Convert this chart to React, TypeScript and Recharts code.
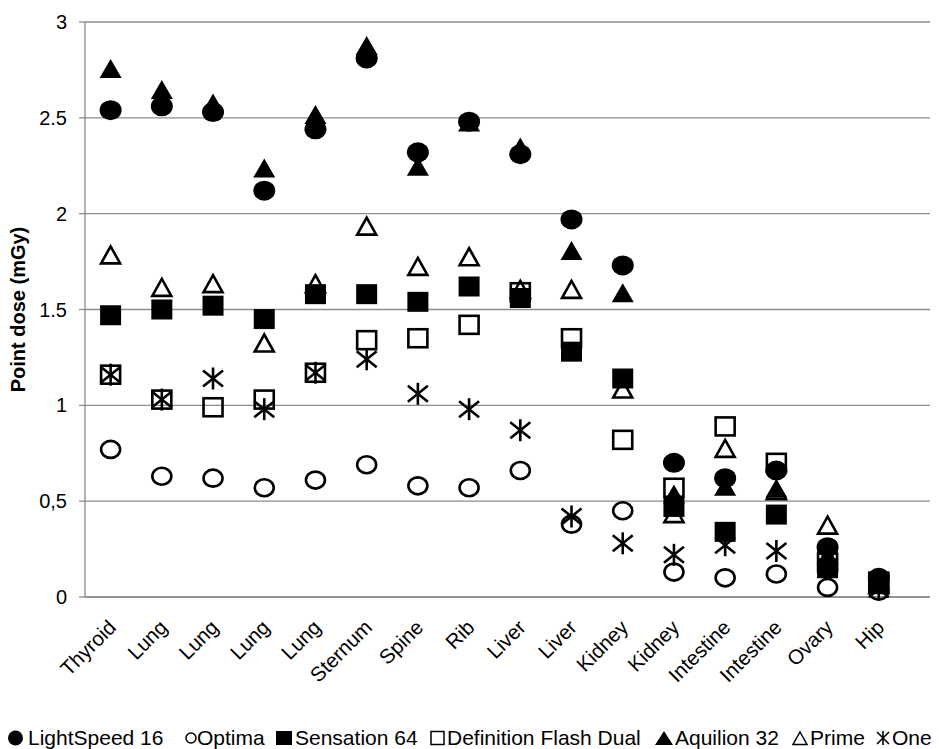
import React from "react";
import { ScatterChart, Scatter, XAxis, YAxis, CartesianGrid, Legend } from "recharts";

const categories = ["Thyroid", "Lung", "Lung", "Lung", "Lung", "Sternum", "Spine", "Rib", "Liver", "Liver", "Kidney", "Kidney", "Intestine", "Intestine", "Ovary", "Hip"];
const lightSpeed16 = [2.54, 2.56, 2.53, 2.12, 2.44, 2.81, 2.32, 2.48, 2.31, 1.97, 1.73, 0.70, 0.62, 0.66, 0.26, 0.10];
const optima = [0.77, 0.63, 0.62, 0.57, 0.61, 0.69, 0.58, 0.57, 0.66, 0.38, 0.45, 0.13, 0.10, 0.12, 0.05, 0.03];
const sensation64 = [1.47, 1.50, 1.52, 1.45, 1.58, 1.58, 1.54, 1.62, 1.56, 1.28, 1.14, 0.47, 0.34, 0.43, 0.15, 0.07];
const definitionFlashDual = [1.16, 1.03, 0.99, 1.03, 1.17, 1.34, 1.35, 1.42, 1.59, 1.35, 0.82, 0.57, 0.89, 0.70, 0.18, 0.08];
const aquilion32 = [2.75, 2.64, 2.57, 2.23, 2.51, 2.87, 2.24, 2.47, 2.34, 1.80, 1.58, 0.53, 0.57, 0.56, 0.21, 0.09];
const prime = [1.78, 1.61, 1.63, 1.32, 1.63, 1.93, 1.72, 1.77, 1.60, 1.60, 1.08, 0.43, 0.77, 0.55, 0.37, 0.06];
const one = [1.16, 1.03, 1.14, 0.98, 1.17, 1.24, 1.06, 0.98, 0.87, 0.42, 0.28, 0.22, 0.27, 0.24, 0.20, 0.04];
const yTicks = [0, 0.5, 1, 1.5, 2, 2.5, 3];
const yTickLabels = ["0", "0,5", "1", "1.5", "2", "2.5", "3"];

const FONT = "'Liberation Sans', Arial, sans-serif";
const SW = 2.6;

type ShapeKind = "circleF" | "circleO" | "squareF" | "squareO" | "triF" | "triO" | "star";

function Marker({ cx, cy, kind }: { cx: number; cy: number; kind: ShapeKind }) {
  if (cx == null || cy == null) return null;
  switch (kind) {
    case "circleF":
      return <ellipse cx={cx} cy={cy} rx={11} ry={10} fill="#000" />;
    case "circleO":
      return <ellipse cx={cx} cy={cy} rx={9.5} ry={8.5} fill="none" stroke="#000" strokeWidth={SW} />;
    case "squareF":
      return <rect x={cx - 10.5} y={cy - 10} width={21} height={20} fill="#000" />;
    case "squareO":
      return <rect x={cx - 9.5} y={cy - 9} width={19} height={18} fill="none" stroke="#000" strokeWidth={SW} />;
    case "triF":
      return <path d={`M${cx},${cy - 11} L${cx + 11},${cy + 8} L${cx - 11},${cy + 8} Z`} fill="#000" />;
    case "triO":
      return <path d={`M${cx},${cy - 9.5} L${cx + 9.5},${cy + 7.5} L${cx - 9.5},${cy + 7.5} Z`} fill="none" stroke="#000" strokeWidth={SW} strokeLinejoin="miter" />;
    case "star":
      return (
        <g stroke="#000" strokeWidth={SW}>
          <line x1={cx} y1={cy - 11} x2={cx} y2={cy + 11} />
          <line x1={cx - 10} y1={cy - 8} x2={cx + 10} y2={cy + 8} />
          <line x1={cx - 10} y1={cy + 8} x2={cx + 10} y2={cy - 8} />
        </g>
      );
  }
  return null;
}

const seriesDefs: { name: string; values: number[]; kind: ShapeKind }[] = [
  { name: "LightSpeed 16", values: lightSpeed16, kind: "circleF" },
  { name: "Optima", values: optima, kind: "circleO" },
  { name: "Sensation 64", values: sensation64, kind: "squareF" },
  { name: "Definition Flash Dual", values: definitionFlashDual, kind: "squareO" },
  { name: "Aquilion 32", values: aquilion32, kind: "triF" },
  { name: "Prime", values: prime, kind: "triO" },
  { name: "One", values: one, kind: "star" },
];

// legend layout (icon left, icon width, text left) in chart pixels
const legendLayout = [
  [0, 15, 20],
  [177, 12, 189],
  [267, 18, 287],
  [422, 15, 439],
  [647, 18, 667],
  [784, 16, 802],
  [868, 14, 884],
];

function LegendIcon({ kind, w }: { kind: ShapeKind; w: number }) {
  const h = 16;
  const c = w / 2;
  const m = h / 2;
  let el: React.ReactNode = null;
  switch (kind) {
    case "circleF": el = <circle cx={c} cy={m} r={7.5} fill="#000" />; break;
    case "circleO": el = <circle cx={c} cy={m} r={5} fill="none" stroke="#000" strokeWidth={1.5} />; break;
    case "squareF": el = <rect x={1} y={1} width={w - 2} height={14} fill="#000" />; break;
    case "squareO": el = <rect x={1} y={1.5} width={w - 2} height={13} fill="none" stroke="#000" strokeWidth={1.5} />; break;
    case "triF": el = <path d={`M${c},1 L${w},15 L0,15 Z`} fill="#000" />; break;
    case "triO": el = <path d={`M${c},2 L${w - 1},14.5 L1,14.5 Z`} fill="none" stroke="#000" strokeWidth={1.5} />; break;
    case "star":
      el = (
        <g stroke="#000" strokeWidth={1.6}>
          <line x1={c} y1={1} x2={c} y2={15} />
          <line x1={1} y1={2} x2={w - 1} y2={14} />
          <line x1={1} y1={14} x2={w - 1} y2={2} />
        </g>
      );
      break;
  }
  return (
    <svg width={w} height={h} style={{ display: "block" }}>
      {el}
    </svg>
  );
}

function CustomLegend() {
  return (
    <div style={{ position: "relative", width: 925, height: 24, fontFamily: FONT, fontSize: 21, color: "#000", whiteSpace: "nowrap" }}>
      {seriesDefs.map((s, i) => {
        const [il, iw, tl] = legendLayout[i];
        return (
          <React.Fragment key={s.name}>
            <div style={{ position: "absolute", left: il, top: 9 }}>
              <LegendIcon kind={s.kind} w={iw} />
            </div>
            <div style={{ position: "absolute", left: tl, top: 5, lineHeight: "24px" }}>{s.name}</div>
          </React.Fragment>
        );
      })}
    </div>
  );
}

function XTick(props: any) {
  const { x, y, payload } = props;
  const label = categories[payload.value] ?? "";
  return (
    <g transform={`translate(${x + 1},${y + 18})`}>
      <text x={0} y={0} dy={8} textAnchor="end" transform="rotate(-45)" fontFamily={FONT} fontSize={20.5} fill="#000">
        {label}
      </text>
    </g>
  );
}

export default function App() {
  return (
    <ScatterChart width={925} height={741} margin={{ top: 14, right: 3, left: 0, bottom: 4 }}>
      <CartesianGrid vertical={false} stroke="#8c8c8c" strokeWidth={1.3} />
      <XAxis
        type="number"
        dataKey="x"
        domain={[-0.5, 15.5]}
        ticks={categories.map((_, i) => i)}
        interval={0}
        allowDecimals={false}
        axisLine={{ stroke: "#8c8c8c", strokeWidth: 1.3 }}
        tickLine={false}
        tick={<XTick />}
        height={124}
      />
      <YAxis
        type="number"
        dataKey="y"
        domain={[0, 3]}
        ticks={yTicks}
        interval={0}
        width={77}
        axisLine={{ stroke: "#8c8c8c", strokeWidth: 1.3 }}
        tickLine={{ stroke: "#8c8c8c", strokeWidth: 1.3 }}
        tickSize={6}
        tickMargin={12}
        tick={{ fontFamily: FONT, fontSize: 20, fill: "#000" }}
        tickFormatter={(v: number) => yTickLabels[yTicks.indexOf(v)] ?? String(v)}
        label={{
          value: "Point dose (mGy)",
          angle: -90,
          position: "insideLeft",
          offset: 10,
          style: { fontFamily: FONT, fontSize: 20, fontWeight: "bold", fill: "#000", textAnchor: "middle" },
        }}
      />
      {seriesDefs.map((s) => (
        <Scatter
          key={s.name}
          name={s.name}
          data={s.values.map((v, i) => ({ x: i, y: v }))}
          isAnimationActive={false}
          shape={(p: any) => <Marker cx={p.cx} cy={p.cy} kind={s.kind} />}
        />
      ))}
      <Legend verticalAlign="bottom" content={<CustomLegend />} />
    </ScatterChart>
  );
}
